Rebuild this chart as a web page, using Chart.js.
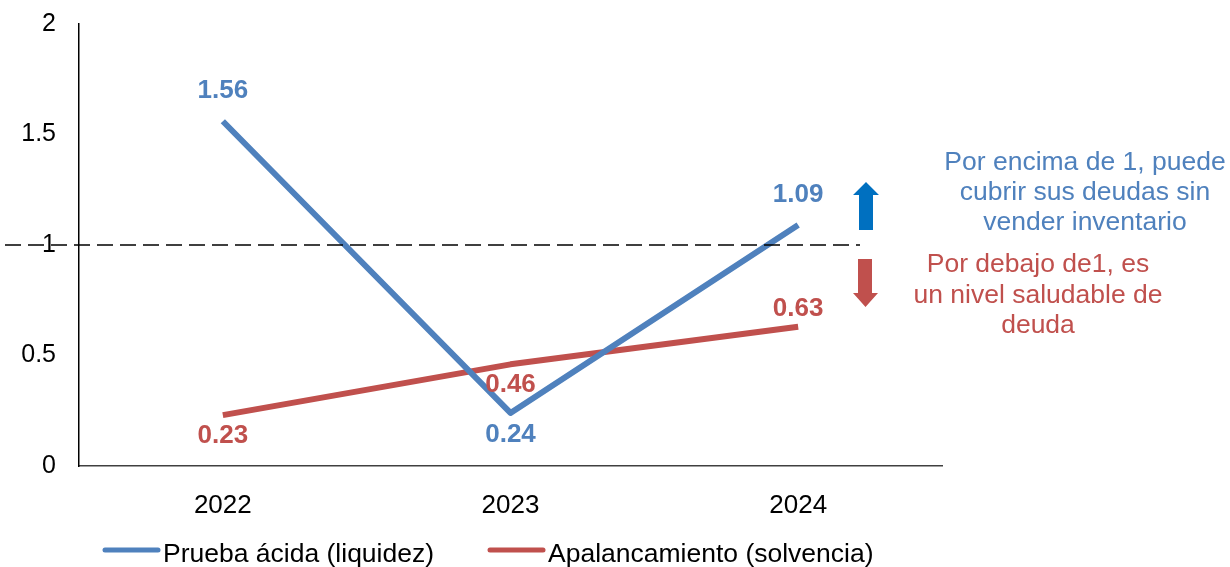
<!DOCTYPE html>
<html>
<head>
<meta charset="utf-8">
<script src="https://cdn.jsdelivr.net/npm/chart.js@4"></script>
<style>
  html, body { margin: 0; padding: 0; background: #fff; }
  #wrap { width: 1230px; height: 567px; }
</style>
</head>
<body>
<div id="wrap"><canvas id="myChart" width="1230" height="567"></canvas></div>
<script>
const years = ['2022', '2023', '2024'];
const pruebaAcida = [1.56, 0.24, 1.09];
const apalancamiento = [0.23, 0.46, 0.63];
const yTicks = [0, 0.5, 1, 1.5, 2];
const threshold = 1;
const bluePos = ['above', 'below', 'above'];
const redPos = ['below', 'below', 'above'];
const noteAbove = ['Por encima de 1, puede', 'cubrir sus deudas sin', 'vender inventario'];
const noteBelow = ['Por debajo de1, es', 'un nivel saludable de', 'deuda'];

const FONT = '"Liberation Sans", Arial, sans-serif';
const BLUE = '#4F81BD';
const RED = '#C0504D';

const extras = {
    id: 'extras',
    afterDraw(chart) {
        const ctx = chart.ctx;
        const yScale = chart.scales.y;

        // dashed reference line at 1
        const ty = yScale.getPixelForValue(threshold);
        ctx.save();
        ctx.strokeStyle = '#000';
        ctx.lineWidth = 1.5;
        ctx.setLineDash([16, 7]);
        ctx.beginPath();
        ctx.moveTo(5, ty);
        ctx.lineTo(860, ty);
        ctx.stroke();
        ctx.restore();

        // value labels
        chart.data.datasets.forEach((ds, i) => {
            const meta = chart.getDatasetMeta(i);
            ctx.save();
            ctx.font = 'bold 26px ' + FONT;
            ctx.fillStyle = ds.borderColor;
            ctx.textAlign = 'center';
            ctx.textBaseline = 'alphabetic';
            meta.data.forEach((pt, j) => {
                const off = ds.labelPos[j] === 'above' ? ds.offAbove : ds.offBelow;
                ctx.fillText(ds.data[j].toFixed(2), pt.x, pt.y + off);
            });
            ctx.restore();
        });

        // arrows
        ctx.save();
        ctx.fillStyle = '#0070C0';
        ctx.beginPath();
        ctx.moveTo(859, ty - 15);
        ctx.lineTo(859, ty - 50);
        ctx.lineTo(853, ty - 50);
        ctx.lineTo(866, ty - 63);
        ctx.lineTo(879, ty - 50);
        ctx.lineTo(873, ty - 50);
        ctx.lineTo(873, ty - 15);
        ctx.closePath();
        ctx.fill();
        ctx.fillStyle = RED;
        ctx.beginPath();
        ctx.moveTo(858, ty + 14);
        ctx.lineTo(858, ty + 48);
        ctx.lineTo(853, ty + 48);
        ctx.lineTo(865.5, ty + 62);
        ctx.lineTo(878, ty + 48);
        ctx.lineTo(872, ty + 48);
        ctx.lineTo(872, ty + 14);
        ctx.closePath();
        ctx.fill();

        // side notes
        ctx.font = '26.5px ' + FONT;
        ctx.textAlign = 'center';
        ctx.textBaseline = 'alphabetic';
        ctx.fillStyle = BLUE;
        noteAbove.forEach((t, k) => ctx.fillText(t, 1085, 170 + k * 30));
        ctx.fillStyle = RED;
        noteBelow.forEach((t, k) => ctx.fillText(t, 1038, 272 + k * 30.5));

        // legend
        const items = [
            { text: chart.data.datasets[0].label, color: BLUE, x: 103 },
            { text: chart.data.datasets[1].label, color: RED, x: 488 }
        ];
        ctx.lineWidth = 5;
        ctx.lineCap = 'round';
        ctx.textAlign = 'left';
        items.forEach(it => {
            ctx.strokeStyle = it.color;
            ctx.beginPath();
            ctx.moveTo(it.x + 2, 550);
            ctx.lineTo(it.x + 55, 550);
            ctx.stroke();
            ctx.fillStyle = '#000';
            ctx.fillText(it.text, it.x + 60, 562);
        });
        ctx.restore();
    }
};

const ctx = document.getElementById('myChart').getContext('2d');
const chart = new Chart(ctx, {
    type: 'line',
    data: {
        labels: years,
        datasets: [{
            label: 'Prueba ácida (liquidez)',
            data: pruebaAcida,
            borderColor: BLUE,
            backgroundColor: BLUE,
            borderWidth: 6,
            pointRadius: 0,
            tension: 0,
            borderJoinStyle: 'round',
            labelPos: bluePos,
            offAbove: -23,
            offBelow: 29
        }, {
            label: 'Apalancamiento (solvencia)',
            data: apalancamiento,
            borderColor: RED,
            backgroundColor: RED,
            borderWidth: 6,
            pointRadius: 0,
            tension: 0,
            borderJoinStyle: 'round',
            labelPos: redPos,
            offAbove: -11,
            offBelow: 28
        }]
    },
    options: {
        responsive: false,
        animation: false,
        devicePixelRatio: 1,
        layout: { padding: { left: 0, top: 24, right: 288, bottom: 51 } },
        plugins: { legend: { display: false }, tooltip: { enabled: false } },
        scales: {
            x: {
                offset: true,
                grid: { display: false },
                border: { display: true, color: '#404040', width: 1.5 },
                ticks: { color: '#000', padding: 16, font: { family: FONT, size: 26 } },
                afterFit: (scale) => { scale.height = 50; }
            },
            y: {
                min: 0,
                max: 2,
                afterBuildTicks: (scale) => { scale.ticks = yTicks.map(v => ({ value: v })); },
                grid: { display: false, drawTicks: false },
                border: { display: true, color: '#000', width: 1.5 },
                ticks: {
                    color: '#000',
                    padding: 23,
                    font: { family: FONT, size: 25 },
                    callback: (v) => String(v)
                },
                afterFit: (scale) => {
                    scale.width = 79;
                    scale.paddingTop = 0;
                    scale.paddingBottom = 0;
                }
            }
        }
    },
    plugins: [extras]
});
</script>
</body>
</html>
